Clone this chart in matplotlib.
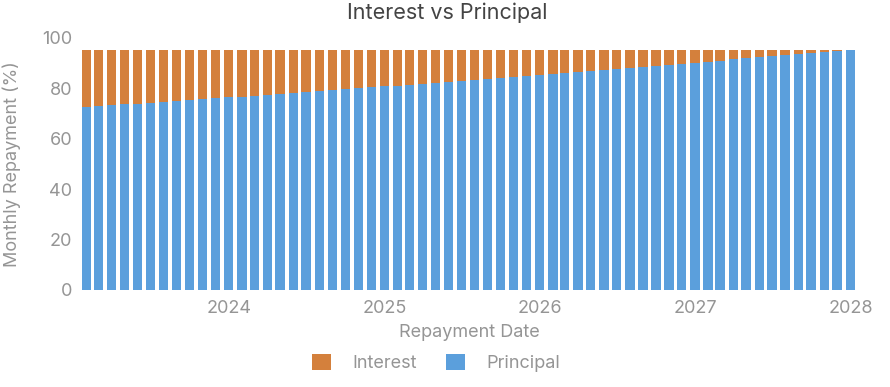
import matplotlib.pyplot as plt
import matplotlib.dates as mdates
import pandas as pd

plt.rcParams['font.family'] = ['Inter', 'DejaVu Sans']

# Monthly repayment dates (end of month), Jan 2023 - Dec 2027
dates = pd.date_range("2023-01-31", periods=60, freq="ME")

# Share of each monthly payment (%)
principal = [72.6, 72.94, 73.27, 73.61, 73.95, 74.29, 74.64, 74.98, 75.33, 75.67,
             76.02, 76.38, 76.73, 77.08, 77.44, 77.8, 78.16, 78.52, 78.88, 79.25,
             79.61, 79.98, 80.35, 80.72, 81.1, 81.47, 81.85, 82.23, 82.61, 82.99,
             83.37, 83.76, 84.15, 84.54, 84.93, 85.32, 85.72, 86.11, 86.51, 86.91,
             87.32, 87.72, 88.13, 88.53, 88.94, 89.36, 89.77, 90.19, 90.6, 91.02,
             91.45, 91.87, 92.3, 92.72, 93.15, 93.58, 94.02, 94.45, 94.89, 95.1]
interest = [22.7, 22.36, 22.03, 21.69, 21.35, 21.01, 20.66, 20.32, 19.97, 19.63,
            19.28, 18.92, 18.57, 18.22, 17.86, 17.5, 17.14, 16.78, 16.42, 16.05,
            15.69, 15.32, 14.95, 14.58, 14.2, 13.83, 13.45, 13.07, 12.69, 12.31,
            11.93, 11.54, 11.15, 10.76, 10.37, 9.98, 9.58, 9.19, 8.79, 8.39,
            7.98, 7.58, 7.17, 6.77, 6.36, 5.94, 5.53, 5.11, 4.7, 4.28,
            3.85, 3.43, 3.0, 2.58, 2.15, 1.72, 1.28, 0.85, 0.41, 0.2]

blue = "#5b9fdc"
orange = "#d4803c"
grey = "#959595"

fig = plt.figure(figsize=(8.9, 3.87), dpi=100)
ax = fig.add_axes([0.092, 0.251, 0.871, 0.651])

ax.bar(dates, principal, width=22, color=blue, label="Principal")
ax.bar(dates, interest, width=22, bottom=principal, color=orange, label="Interest")

ax.set_ylim(0, 100)
ax.set_yticks([0, 20, 40, 60, 80, 100])
ax.set_xlim(pd.Timestamp("2023-01-20"), pd.Timestamp("2028-01-16"))
ax.xaxis.set_major_locator(mdates.YearLocator())
ax.xaxis.set_major_formatter(mdates.DateFormatter("%Y"))

for s in ax.spines.values():
    s.set_visible(False)
ax.tick_params(length=0, colors=grey, labelsize=13)
ax.tick_params(axis="y", pad=7)
ax.tick_params(axis="x", pad=7)

fig.text(0.502, 0.966, "Interest vs Principal", fontsize=15.5, color="#444444",
         ha="center", va="center")
ax.set_xlabel("Repayment Date", fontsize=13, color=grey, labelpad=5)
ax.set_ylabel("Monthly Repayment (%)", fontsize=13, color=grey, labelpad=15)

handles, labels = ax.get_legend_handles_labels()
fig.legend(handles[::-1], labels[::-1], loc="center", bbox_to_anchor=(0.49, 0.062),
           ncol=2, frameon=False, fontsize=13, labelcolor=grey,
           handlelength=1.05, handleheight=0.95, handletextpad=1.15, columnspacing=1.65)

fig.savefig("out.png", dpi=100)
